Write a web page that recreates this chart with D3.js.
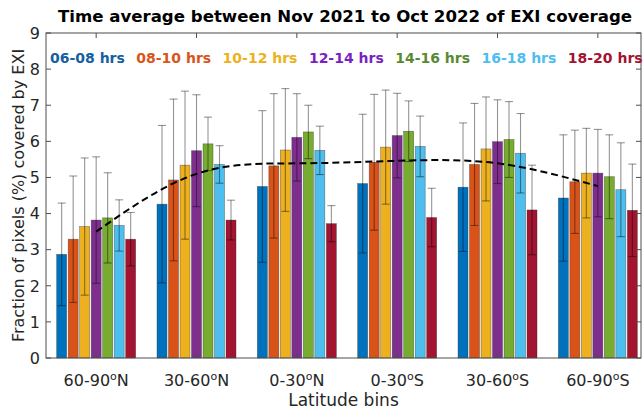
<!DOCTYPE html>
<html>
<head>
<meta charset="utf-8">
<script src="https://cdn.jsdelivr.net/npm/d3@7"></script>
<style>
  body { margin: 0; background: #fff; }
  svg { display: block; font-family: "DejaVu Sans", sans-serif; }
</style>
</head>
<body>
<svg id="chart" width="643" height="410"></svg>
<script>
// latitude bins (x categories)
const bins = ["60-90|N", "30-60|N", "0-30|N", "0-30|S", "30-60|S", "60-90|S"];
// local time windows (series)
const hours = ["06-08 hrs", "08-10 hrs", "10-12 hrs", "12-14 hrs", "14-16 hrs", "16-18 hrs", "18-20 hrs"];
const barColors = ["#0072bd", "#d95319", "#edb120", "#7e2f8e", "#77ac30", "#4dbeee", "#a2142f"];
const labelColors = ["#1560a0", "#d9541a", "#edb120", "#7b1fc0", "#5a8a30", "#4dbeee", "#a2142f"];

// mean coverage (%) per bin, one row per hour window
const means = [
  [2.87, 4.26, 4.75, 4.83, 4.73, 4.43],
  [3.29, 4.93, 5.32, 5.42, 5.36, 4.88],
  [3.64, 5.34, 5.76, 5.84, 5.79, 5.12],
  [3.82, 5.74, 6.11, 6.16, 5.99, 5.12],
  [3.88, 5.93, 6.26, 6.28, 6.05, 5.02],
  [3.67, 5.36, 5.75, 5.86, 5.67, 4.66],
  [3.29, 3.82, 3.72, 3.89, 4.10, 4.09]
];
// standard deviation (half length of error bar)
const stds = [
  [1.42, 2.18, 2.10, 1.92, 1.78, 1.75],
  [1.75, 2.24, 2.00, 1.88, 1.69, 1.43],
  [1.90, 2.05, 1.70, 1.58, 1.44, 1.24],
  [1.75, 1.55, 1.21, 1.17, 1.16, 1.21],
  [1.25, 0.74, 0.74, 0.84, 1.05, 1.16],
  [0.71, 0.52, 0.67, 0.84, 1.10, 1.30],
  [0.74, 0.55, 0.50, 0.81, 1.24, 1.28]
];
// dashed trend through the bin centres
const trend = [3.50, 5.10, 5.39, 5.46, 5.39, 4.76];
const yTicks = [0, 1, 2, 3, 4, 5, 6, 7, 8, 9];

const svg = d3.select("#chart");
const plotL = 46, plotR = 641, plotT = 33, plotB = 358;

const x = d3.scaleLinear().domain([0.5, 6.43]).range([plotL, plotR]);
const y = d3.scaleLinear().domain([0, 9]).range([plotB, plotT]);
const inner = d3.scaleBand().domain(d3.range(hours.length)).range([-39.5, 39.5]).paddingInner(0.13);

const g = svg.append("g");

// bars
hours.forEach((h, s) => {
  g.selectAll(".bar" + s)
    .data(means[s])
    .join("rect")
    .attr("x", (d, i) => x(i + 1) + inner(s))
    .attr("y", d => y(d))
    .attr("width", inner.bandwidth())
    .attr("height", d => y(0) - y(d))
    .attr("fill", barColors[s])
    .attr("stroke", "#333")
    .attr("stroke-opacity", 0.6)
    .attr("stroke-width", 0.6);
});

// error bars
const capW = 4;
hours.forEach((h, s) => {
  const eg = g.append("g").attr("stroke", "#000").attr("stroke-opacity", 0.42).attr("stroke-width", 1.1);
  means[s].forEach((m, i) => {
    const cx = x(i + 1) + inner(s) + inner.bandwidth() / 2;
    const hi = y(m + stds[s][i]), lo = y(m - stds[s][i]);
    eg.append("line").attr("x1", cx).attr("x2", cx).attr("y1", hi).attr("y2", lo);
    eg.append("line").attr("x1", cx - capW).attr("x2", cx + capW).attr("y1", hi).attr("y2", hi);
    eg.append("line").attr("x1", cx - capW).attr("x2", cx + capW).attr("y1", lo).attr("y2", lo);
  });
});

// dashed trend line
g.append("path")
  .datum(trend)
  .attr("fill", "none")
  .attr("stroke", "#000")
  .attr("stroke-width", 2)
  .attr("stroke-dasharray", "7,4")
  .attr("d", d3.line().x((d, i) => x(i + 1)).y(d => y(d)).curve(d3.curveNatural));

// axes box + ticks (inward, mirrored)
const axisColor = "#4d4d4d";
const tick = 5;
const ax = svg.append("g").attr("stroke", axisColor).attr("stroke-width", 1);
ax.append("rect").attr("x", plotL).attr("y", plotT).attr("width", plotR - plotL).attr("height", plotB - plotT).attr("fill", "none");
yTicks.forEach(t => {
  ax.append("line").attr("x1", plotL).attr("x2", plotL + tick).attr("y1", y(t)).attr("y2", y(t));
  ax.append("line").attr("x1", plotR).attr("x2", plotR - tick).attr("y1", y(t)).attr("y2", y(t));
});
bins.forEach((b, i) => {
  ax.append("line").attr("x1", x(i + 1)).attr("x2", x(i + 1)).attr("y1", plotB).attr("y2", plotB - tick);
  ax.append("line").attr("x1", x(i + 1)).attr("x2", x(i + 1)).attr("y1", plotT).attr("y2", plotT + tick);
});

// y tick labels
svg.append("g").selectAll("text")
  .data(yTicks)
  .join("text")
  .attr("x", plotL - 6)
  .attr("y", d => y(d))
  .attr("dy", "0.36em")
  .attr("text-anchor", "end")
  .attr("font-size", 16)
  .attr("fill", "#262626")
  .text(d => d);

// x tick labels with superscript o
const xl = svg.append("g").selectAll("text")
  .data(bins)
  .join("text")
  .attr("x", (d, i) => x(i + 1))
  .attr("y", 386)
  .attr("text-anchor", "middle")
  .attr("font-size", 16)
  .attr("fill", "#262626");
xl.append("tspan").text(d => d.split("|")[0]);
xl.append("tspan").attr("dy", -6).attr("font-size", 11).text("o");
xl.append("tspan").attr("dy", 6).text(d => d.split("|")[1]);

// axis titles
svg.append("text")
  .attr("x", (plotL + plotR) / 2)
  .attr("y", 406)
  .attr("text-anchor", "middle")
  .attr("font-size", 17)
  .attr("fill", "#262626")
  .text("Latitude bins");

svg.append("text")
  .attr("transform", `translate(24,${(plotT + plotB) / 2}) rotate(-90)`)
  .attr("text-anchor", "middle")
  .attr("font-size", 16)
  .attr("fill", "#262626")
  .text("Fraction of pixels (%) covered by EXI");

// title
svg.append("text")
  .attr("x", 345)
  .attr("y", 22)
  .attr("text-anchor", "middle")
  .attr("font-size", 16.6)
  .attr("font-weight", "bold")
  .attr("fill", "#000")
  .text("Time average between Nov 2021 to Oct 2022 of EXI coverage");

// coloured legend labels
svg.append("g").selectAll("text")
  .data(hours)
  .join("text")
  .attr("x", (d, i) => 50 + i * 86.3)
  .attr("y", 63)
  .attr("font-size", 14)
  .attr("font-weight", "bold")
  .attr("fill", (d, i) => labelColors[i])
  .text(d => d);
</script>
</body>
</html>
